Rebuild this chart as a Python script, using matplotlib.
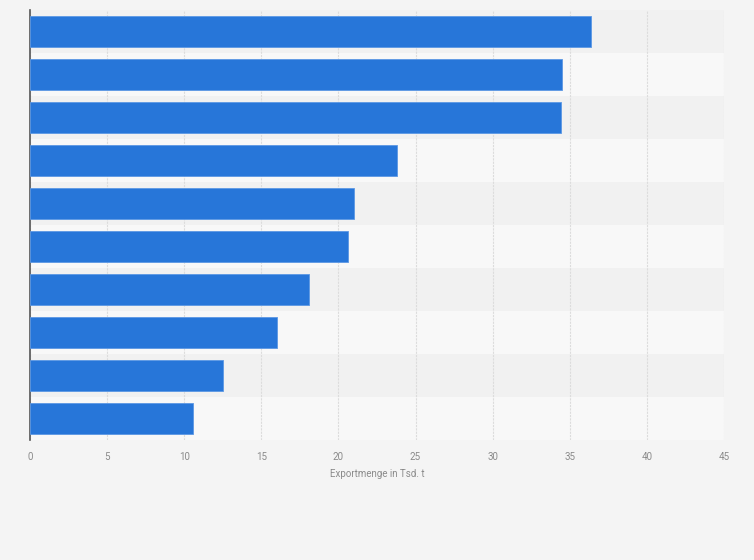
import matplotlib.pyplot as plt
import numpy as np

plt.rcParams['font.family'] = ['Roboto', 'DejaVu Sans']

# values (top bar first); no category labels shown in the reference
categories = ['1', '2', '3', '4', '5', '6', '7', '8', '9', '10']
export_tsd_t = [36.4, 34.5, 34.4, 23.8, 21.0, 20.6, 18.1, 16.0, 12.5, 10.6]
x_ticks = [0, 5, 10, 15, 20, 25, 30, 35, 40, 45]

fig = plt.figure(figsize=(7.54, 5.6), dpi=100)
fig.patch.set_facecolor('#f4f4f4')
ax = fig.add_axes([30 / 754, 1 - 440 / 560, 694 / 754, 430 / 560])
ax.set_facecolor('#f4f4f4')

n = len(categories)
y = np.arange(n)
# alternating row bands
for i in range(n):
    ax.axhspan(i - 0.5, i + 0.5, color='#f1f1f1' if i % 2 == 0 else '#f8f8f8', zorder=0, lw=0)

ax.barh(y, export_tsd_t, height=0.7, color='#2776d9', edgecolor='#5c98e4', linewidth=0.6, zorder=3)

ax.set_xlim(0, 45)
ax.set_ylim(n - 0.5, -0.5)
ax.set_xticks(x_ticks)
ax.set_xticklabels([str(t) for t in x_ticks], color='#8a8a8a', fontsize=7)
ax.set_yticks([])
ax.xaxis.grid(True, color='#dcdcdc', linestyle=(0, (2, 1)), linewidth=0.8, zorder=1)
ax.tick_params(axis='x', length=0, pad=9)

for s in ['top', 'right', 'bottom']:
    ax.spines[s].set_visible(False)
ax.spines['left'].set_color('#555555')
ax.spines['left'].set_linewidth(1.2)

ax.set_xlabel('Exportmenge in Tsd. t', color='#8a8a8a', fontsize=7, labelpad=5)

plt.savefig('out.png', dpi=100, facecolor=fig.get_facecolor())
